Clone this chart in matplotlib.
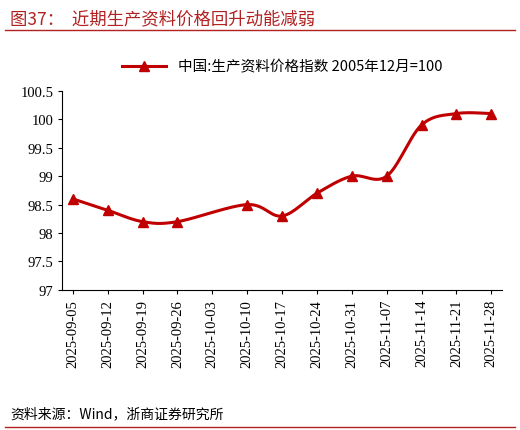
import matplotlib
matplotlib.use('Agg')
import matplotlib.pyplot as plt
import numpy as np

plt.rcParams['font.family'] = ['Liberation Serif', 'Noto Sans CJK SC', 'DejaVu Sans']

dates = ['2025-09-05','2025-09-12','2025-09-19','2025-09-26','2025-10-03','2025-10-10',
         '2025-10-17','2025-10-24','2025-10-31','2025-11-07','2025-11-14','2025-11-21','2025-11-28']
values = [98.6, 98.4, 98.2, 98.2, None, 98.5, 98.3, 98.7, 99.0, 99.0, 99.9, 100.1, 100.1]
label = '中国:生产资料价格指数 2005年12月=100'
title = '图37：  近期生产资料价格回升动能减弱'
source = '资料来源：Wind，浙商证券研究所'
red = '#C00000'
brown = '#B22222'

x = np.array([i for i, v in enumerate(values) if v is not None], float)
y = np.array([v for v in values if v is not None], float)

# Catmull-Rom smoothing between actual points (drawing style only)
def smooth(x, y, n=30):
    xs, ys = [], []
    P = np.column_stack([x, y])
    P = np.vstack([P[0], P, P[-1]])
    for i in range(1, len(P) - 2):
        p0, p1, p2, p3 = P[i-1], P[i], P[i+1], P[i+2]
        t = np.linspace(0, 1, n)[:, None]
        pts = 0.5 * ((2*p1) + (-p0 + p2)*t + (2*p0 - 5*p1 + 4*p2 - p3)*t**2 + (-p0 + 3*p1 - 3*p2 + p3)*t**3)
        xs.extend(pts[:, 0]); ys.extend(pts[:, 1])
    return np.array(xs), np.array(ys)

sx, sy = smooth(x, y)

fig = plt.figure(figsize=(5.2, 4.31), dpi=100)
ax = fig.add_axes([0.12, 0.325, 0.845, 0.462])
ax.plot(sx, sy, color=red, lw=2.2)
ax.plot(x, y, '^', color=red, ms=7, lw=0)
ax.plot([], [], '-^', color=red, lw=2.2, ms=7, label=label)
ax.set_xlim(-0.3, len(dates) - 0.7)
ax.set_ylim(97, 100.5)
ax.set_yticks(np.arange(97, 100.51, 0.5))
ax.set_yticklabels(['97', '97.5', '98', '98.5', '99', '99.5', '100', '100.5'])
ax.set_xticks(range(len(dates)))
ax.set_xticklabels(dates, rotation=90)
ax.tick_params(labelsize=10.5, length=3)
for s in ['top', 'right']:
    ax.spines[s].set_visible(False)
ax.legend(loc='lower center', bbox_to_anchor=(0.5, 1.02), frameon=False, fontsize=10.5,
          handlelength=3, prop={'family': ['Noto Sans CJK SC', 'DejaVu Sans'], 'size': 10.5})

fig.text(0.02, 0.955, title, color=brown, fontsize=12.5, family=['Noto Sans CJK SC', 'DejaVu Sans'], va='center')
fig.add_artist(plt.Line2D([0.01, 0.99], [0.928, 0.928], color=brown, lw=1))
fig.text(0.02, 0.04, source, fontsize=10, family=['Noto Sans CJK SC', 'DejaVu Sans'], va='center')
fig.add_artist(plt.Line2D([0.01, 0.99], [0.008, 0.008], color=brown, lw=1))
fig.savefig('out.png', dpi=100)
